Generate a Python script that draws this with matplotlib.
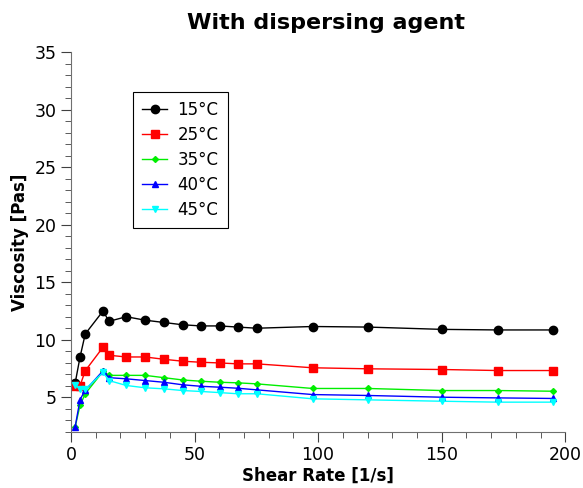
import matplotlib.pyplot as plt
from matplotlib.ticker import MultipleLocator

# shear rate [1/s]
rate = [1.7, 3.7, 5.8, 13.0, 15.4, 22.4, 30.0, 37.6, 45.2, 52.6, 60.2, 67.5, 75.2, 97.8, 120.2, 150.1, 172.8, 195.1]

# viscosity [Pas]
v15 = [6.2, 8.5, 10.5, 12.5, 11.6, 12.0, 11.7, 11.5, 11.3, 11.2, 11.2, 11.1, 11.0, 11.15, 11.1, 10.9, 10.85, 10.85]
v25 = [6.0, 6.0, 7.3, 9.35, 8.65, 8.5, 8.5, 8.3, 8.13, 8.04, 7.98, 7.9, 7.9, 7.56, 7.47, 7.41, 7.32, 7.32]
v35 = [2.4, 4.3, 5.3, 7.25, 6.9, 6.9, 6.9, 6.7, 6.5, 6.39, 6.3, 6.25, 6.16, 5.76, 5.76, 5.58, 5.58, 5.52]
v40 = [2.4, 4.8, 5.6, 7.3, 6.7, 6.6, 6.45, 6.3, 6.08, 5.95, 5.87, 5.78, 5.64, 5.23, 5.15, 5.0, 4.94, 4.89]
v45 = [6.1, 5.7, 5.7, 7.15, 6.45, 6.02, 5.82, 5.73, 5.58, 5.5, 5.4, 5.3, 5.3, 4.86, 4.77, 4.65, 4.57, 4.57]

labels = ['15°C', '25°C', '35°C', '40°C', '45°C']

fig = plt.figure(figsize=(5.83, 4.88), dpi=100)
ax = fig.add_axes([70.9/583, 1 - 431.7/488, 494.4/583, 379.4/488])

ax.plot(rate, v15, color='black', marker='o', markersize=6, lw=1, label=labels[0])
ax.plot(rate, v25, color='red', marker='s', markersize=5.5, lw=1, label=labels[1])
ax.plot(rate, v35, color='#00ee00', marker='D', markersize=3, lw=1, label=labels[2])
ax.plot(rate, v40, color='blue', marker='^', markersize=5, lw=1, label=labels[3])
ax.plot(rate, v45, color='cyan', marker='v', markersize=5, lw=1, label=labels[4])

ax.set_xlim(0, 200)
ax.set_ylim(2, 35)
ax.set_yticks([5, 10, 15, 20, 25, 30, 35])
ax.xaxis.set_major_locator(MultipleLocator(50))
ax.xaxis.set_minor_locator(MultipleLocator(10))
ax.yaxis.set_minor_locator(MultipleLocator(1))

for s in ['top', 'right']:
    ax.spines[s].set_visible(False)
for s in ['left', 'bottom']:
    ax.spines[s].set_color('#707070')
ax.tick_params(which='major', length=7, color='#404040', labelsize=12.5)
ax.tick_params(which='minor', length=4, color='#404040')

ax.set_xlabel('Shear Rate [1/s]', fontsize=12, fontweight='bold', labelpad=2)
ax.set_ylabel('Viscosity [Pas]', fontsize=12, fontweight='bold', labelpad=4)
ax.set_title('With dispersing agent', fontsize=16, fontweight='bold', pad=17, x=0.515)

leg = ax.legend(loc='upper left', bbox_to_anchor=(0.126, 0.895), fontsize=12,
                fancybox=False, edgecolor='black', framealpha=1,
                handlelength=1.5, handletextpad=0.6, borderaxespad=0,
                labelspacing=0.42, borderpad=0.55)
leg.get_frame().set_linewidth(0.8)

fig.savefig('out.png', dpi=100)
